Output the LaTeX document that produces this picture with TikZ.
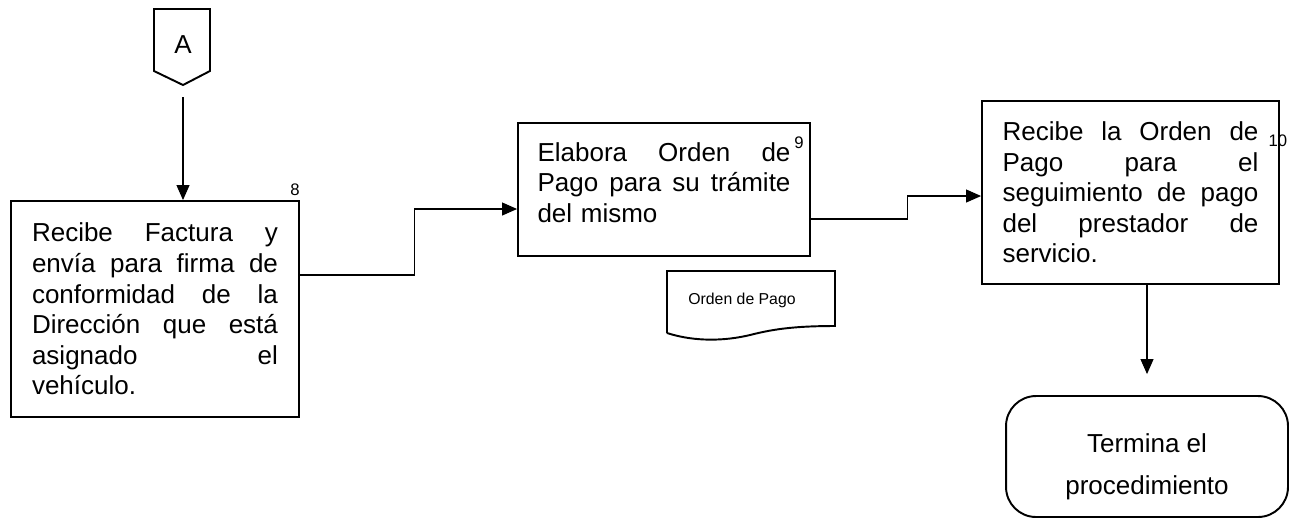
\documentclass[tikz,border=0pt]{standalone}
\usepackage{fontspec}
\setmainfont{Liberation Sans}
\usetikzlibrary{arrows.meta,positioning}

\tikzstyle{proc box}=[draw, line width=1.1pt, inner sep=0pt, align=left,
font=\fontsize{14.8}{17.4}\selectfont]
\tikzstyle{end box}=[draw, line width=1.1pt, rounded corners=0.6cm,
inner sep=0pt, align=center, font=\fontsize{14.8}{23.9}\selectfont]
\tikzstyle{num label}=[inner sep=0pt, font=\fontsize{9.5}{11}\selectfont]
\tikzstyle{flow}=[line width=0.6pt, -{Triangle[length=0.3cm,width=0.26cm]}]

\newcommand{\jline}[1]{\noindent\hbox to \hsize{#1}}

\begin{document}
\begin{tikzpicture}[x=0.02cm,y=-0.02cm]
			\useasboundingbox (0,0) rectangle (1293,522);

			% conector A
			\draw[line width=1.1pt] (154,9) -- (210,9) -- (210,71) -- (183,85) -- (154,71) -- cycle;
			\node[font=\fontsize{14.8}{17.4}\selectfont] (conA) at (183,45) {A};
			\coordinate (conA out) at (183,97);

			\node[proc box, minimum width=5.76cm, minimum height=4.32cm, text width=4.92cm] (box1) at (155,309)
				{\jline{Recibe\hfill Factura\hfill y}\\ \jline{envía\hfill para\hfill firma\hfill de}\\
				 \jline{conformidad\hfill de\hfill la}\\ \jline{Dirección\hfill que\hfill está}\\
				 \jline{asignado\hfill el}\\ vehículo.};
			\node[num label] (num8) at ([xshift=-0.1cm,yshift=0.2cm]box1.north east) {8};

			\node[proc box, minimum width=5.84cm, minimum height=2.66cm, text width=5.06cm] (box2) at (664,189.5)
				{\jline{Elabora\hfill Orden\hfill de}\\ \jline{Pago\hfill para\hfill su\hfill trámite}\\
				 del mismo\rule[-0.28cm]{0pt}{0pt}};
			\node[num label] (num9) at ([xshift=-0.24cm,yshift=-0.42cm]box2.north east) {9};

			\node[proc box, minimum width=5.94cm, minimum height=3.66cm, text width=5.12cm] (box3) at (1130.5,192.5)
				{\jline{Recibe\hfill la\hfill Orden\hfill de}\\ \jline{Pago\hfill para\hfill el}\\
				 \jline{seguimiento\hfill de\hfill pago}\\ \jline{del\hfill prestador\hfill de}\\ servicio.};
			\node[num label] (num10) at ([xshift=-0.04cm,yshift=-0.82cm]box3.north east) {10};

			% documento
			\draw[line width=1.1pt] (667,333) -- (667,271) -- (835,271) -- (835,326)
				.. controls (790,326) and (770,330) .. (750,335)
				.. controls (725,341) and (695,342) .. (667,333);
			\node[font=\fontsize{9}{11}\selectfont] (doc) at (742,300) {Orden de Pago};

			\node[end box, minimum width=5.64cm, minimum height=2.42cm] (term) at (1147,456.5)
				{\rule{0pt}{22pt}Termina el\\ procedimiento};

			\draw[flow] (conA out) -- (conA out |- box1.north);
			\draw[flow] ([yshift=0.68cm]box1.east) -- ++(115,0) |- ([yshift=-0.39cm]box2.west);
			\draw[flow] ([yshift=-0.59cm]box2.east) -- ++(97,0) |- ([yshift=-0.07cm]box3.west);
			\draw[flow] (term.north |- box3.south) -- ([yshift=0.42cm]term.north);
		\end{tikzpicture}
\end{document}
